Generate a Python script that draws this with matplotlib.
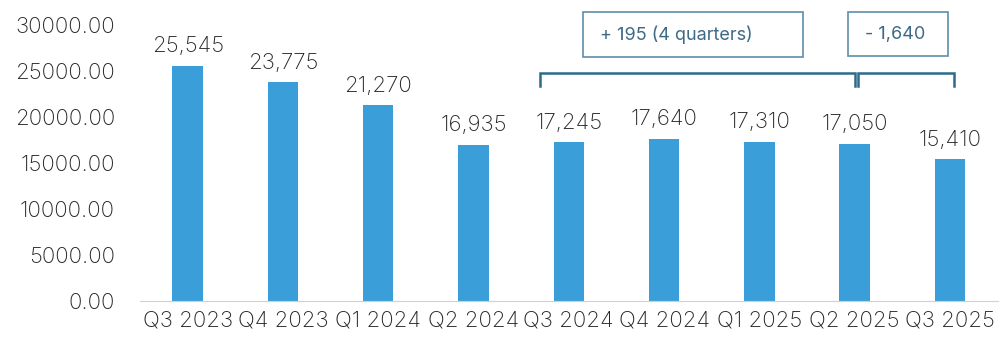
import matplotlib
matplotlib.use("Agg")
import matplotlib.pyplot as plt
from matplotlib.patches import Rectangle

categories = ["Q3 2023", "Q4 2023", "Q1 2024", "Q2 2024", "Q3 2024",
              "Q4 2024", "Q1 2025", "Q2 2025", "Q3 2025"]
values = [25545, 23775, 21270, 16935, 17245, 17640, 17310, 17050, 15410]
yticks = [0, 5000, 10000, 15000, 20000, 25000, 30000]
box_texts = ["+ 195 (4 quarters)", "- 1,640"]

plt.rcParams['font.family'] = ['Inter', 'DejaVu Sans']
plt.rcParams['font.weight'] = 'light'

fig = plt.figure(figsize=(10.05, 3.51), dpi=100)
ax = fig.add_axes([140/1005, 1 - 301/351, (997.6 - 140)/1005, (301 - 25)/351])

x = list(range(len(categories)))
ax.bar(x, values, width=0.32, color="#3A9FD8", zorder=2)
ax.set_xlim(-0.5, len(categories) - 0.5)
ax.set_ylim(0, 30000)
ax.set_yticks(yticks)
tc = "#262626"
fs = 16
ax.set_yticklabels([f"{v:.2f}" for v in yticks], fontsize=fs, color=tc)
ax.set_xticks(x)
ax.set_xticklabels(categories, fontsize=fs, color=tc)
ax.tick_params(axis="y", length=0, pad=18)
ax.tick_params(axis="x", length=0, pad=7)
for s in ["top", "right", "left"]:
    ax.spines[s].set_visible(False)
ax.spines["bottom"].set_color("#d0d0d0")

for xi, v in zip(x, values):
    ax.annotate(f"{v:,}", (xi, v), xytext=(0, 7), textcoords="offset points",
                ha="center", va="bottom", fontsize=fs, color=tc)

bc = "#2F6A8C"
def fx(px): return px / 1005
def fy(py): return 1 - py / 351
def bracket(x0, x1):
    fig.add_artist(plt.Line2D([fx(x0), fx(x0), fx(x1), fx(x1)],
                              [fy(86), fy(73), fy(73), fy(86)],
                              color=bc, lw=1.8, solid_joinstyle="miter"))
def dpx(d):
    return 140 + (d + 0.5) * (997.6 - 140) / len(categories)
bracket(dpx(3.7), dpx(7.0))
bracket(dpx(7.03), dpx(8.04))

ec = "#5F8DAA"
for (x0, x1, y0, y1), t in zip([(583, 803, 12, 57), (848, 948, 12, 56)], box_texts):
    fig.add_artist(Rectangle((fx(x0), fy(y1)), fx(x1 - x0), (y1 - y0) / 351,
                             fill=False, edgecolor=ec, lw=1.2))
    fig.text(fx(x0 + 17), fy((y0 + y1) / 2), t, ha="left", va="center",
             fontsize=13, fontweight="normal", color="#3E6A86")

fig.savefig("out.png", dpi=100)
